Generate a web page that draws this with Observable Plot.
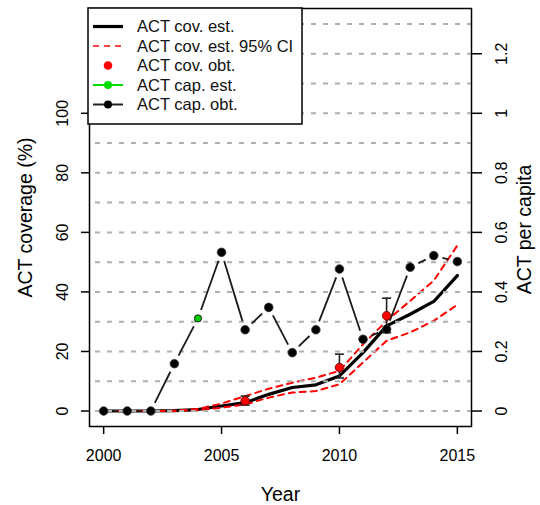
<!DOCTYPE html>
<html><head><meta charset="utf-8">
<script src="https://cdn.jsdelivr.net/npm/d3@7"></script>
<script src="https://cdn.jsdelivr.net/npm/@observablehq/plot@0.6"></script>
<style>
body{margin:0;background:#fff;font-family:"Liberation Sans",Arial,sans-serif}
</style>
</head><body><div id="chart"></div>
<script>
// ---- data ----
const years   = [2000,2001,2002,2003,2004,2005,2006,2007,2008,2009,2010,2011,2012,2013,2014,2015];
const covEst  = [0,0,0,0.1,0.5,1.7,2.8,5.6,7.9,8.8,11.8,19.6,28.6,32.5,36.8,45.5];
const covLo   = [0,0,0,0,0.3,1.1,2.2,4.5,6.2,6.7,9.0,16.3,23.6,26.4,30.3,35.7];
const covHi   = [0,0,0,0.1,0.7,2.5,5.0,7.5,9.5,11.2,13.5,22.4,30.3,37.0,43.8,55.6];
const obtYears = [2006,2010,2012];
const obtVal   = [3.4,14.6,32.0];
const obtLo    = [2.0,11.1,26.3];
const obtHi    = [5.0,19.1,37.9];
const capObtYears = [2000,2001,2002,2003,2005,2006,2007,2008,2009,2010,2011,2012,2013,2014,2015];
const capObtVal   = [0,0,0,0.159,0.533,0.273,0.348,0.196,0.273,0.477,0.241,0.275,0.483,0.522,0.502];
const capEstYears = [2004];
const capEstVal   = [0.311];
const leftTicks  = [0,20,40,60,80,100];
const rightTicks = [0,0.2,0.4,0.6,0.8,1,1.2];
const gridVals   = [0,0.1,0.2,0.3,0.4,0.5,0.6,0.7,0.8,0.9,1.0,1.1,1.2,1.3];
const xTicks     = [2000,2005,2010,2015];
const legendItems = ["ACT cov. est.","ACT cov. est. 95% CI","ACT cov. obt.","ACT cap. est.","ACT cap. obt."];

// ---- layout ----
const W = 540, H = 505, mL = 89, mR = 69, mT = 8, mB = 79;
const xDom = [1999.4, 2015.6], yDom = [-5.2, 135.2];
const xs = Plot.scale({x: {type: "linear", domain: xDom, range: [mL, W - mR]}});
const ys = Plot.scale({y: {type: "linear", domain: yDom, range: [H - mB, mT]}});

const covRows = years.map((y, i) => ({year: y, est: covEst[i], lo: covLo[i], hi: covHi[i]}));
const obtRows = obtYears.map((y, i) => ({year: y, v: obtVal[i], lo: obtLo[i], hi: obtHi[i]}));
const capObt = capObtYears.map((y, i) => ({year: y, v: capObtVal[i] * 100}));
const capEst = capEstYears.map((y, i) => ({year: y, v: capEstVal[i] * 100}));
const capAll = [...capObt, ...capEst].sort((a, b) => a.year - b.year);

// type="b" style segments: gaps around points
const gap = 9;
const segs = [];
for (let i = 0; i < capAll.length - 1; i++) {
  const a = capAll[i], b = capAll[i + 1];
  const ax = xs.apply(a.year), ay = ys.apply(a.v), bx = xs.apply(b.year), by = ys.apply(b.v);
  const L = Math.hypot(bx - ax, by - ay);
  if (L <= 2 * gap) continue;
  const ux = (bx - ax) / L, uy = (by - ay) / L;
  segs.push({
    x1: xs.invert(ax + ux * gap), y1: ys.invert(ay + uy * gap),
    x2: xs.invert(bx - ux * gap), y2: ys.invert(by - uy * gap)
  });
}
const capHalf = 4.5;
const caps = [];
obtRows.forEach(d => {
  const px = xs.apply(d.year);
  caps.push({x1: xs.invert(px - capHalf), x2: xs.invert(px + capHalf), y: d.lo});
  caps.push({x1: xs.invert(px - capHalf), x2: xs.invert(px + capHalf), y: d.hi});
});

const font = "Liberation Sans, Arial, sans-serif";
const chart = Plot.plot({
  width: W, height: H,
  marginLeft: mL, marginRight: mR, marginTop: mT, marginBottom: mB,
  style: {fontFamily: font, background: "#fff", overflow: "visible"},
  x: {domain: xDom, axis: null},
  y: {domain: yDom, axis: null},
  marks: [
    Plot.line(covRows, {x: "year", y: "est", stroke: "black", strokeWidth: 3.2}),
    Plot.line(covRows, {x: "year", y: "lo", stroke: "#ff0000", strokeWidth: 2, strokeDasharray: "6,5"}),
    Plot.line(covRows, {x: "year", y: "hi", stroke: "#ff0000", strokeWidth: 2, strokeDasharray: "6,5"}),
    Plot.ruleY(gridVals, {y: d => d * 100, stroke: "#b0b0b0", strokeWidth: 2, strokeDasharray: "5,7", strokeDashoffset: -6}),
    Plot.link(segs, {x1: "x1", y1: "y1", x2: "x2", y2: "y2", stroke: "#1a1a1a", strokeWidth: 1.8}),
    Plot.ruleX(obtRows, {x: "year", y1: "lo", y2: "hi", stroke: "#222", strokeWidth: 1.6}),
    Plot.link(caps, {x1: "x1", x2: "x2", y1: "y", y2: "y", stroke: "#222", strokeWidth: 1.6}),
    Plot.dot(capObt, {x: "year", y: "v", r: 4.3, fill: "black", stroke: "#333", strokeWidth: 0.8}),
    Plot.dot(capEst, {x: "year", y: "v", r: 3.6, fill: "#00cc00", stroke: "#222", strokeWidth: 1}),
    Plot.dot(obtRows, {x: "year", y: "v", r: 4.3, fill: "#ff0000", stroke: "#660000", strokeWidth: 0.8}),
    Plot.frame({stroke: "black", strokeWidth: 1.5}),
    // axes
    Plot.axisX({ticks: xTicks, tickSize: 8, tickPadding: 15, tickFormat: d => String(d), fontSize: 16, label: null, stroke: "black", strokeWidth: 1.5}),
    Plot.axisY({anchor: "left", ticks: leftTicks, tickSize: 8, tickFormat: () => "", label: null, strokeWidth: 1.5}),
    Plot.axisY({anchor: "right", ticks: rightTicks.map(d => d * 100), tickSize: 10, tickFormat: () => "", label: null, strokeWidth: 1.5}),
    Plot.text(leftTicks, {y: d => d, frameAnchor: "left", dx: -27, rotate: -90, text: d => String(d), fontSize: 16, textAnchor: "middle", lineAnchor: "middle", fill: "black"}),
    Plot.text(rightTicks, {y: d => d * 100, frameAnchor: "right", dx: 30, rotate: -90, text: d => String(d), fontSize: 16, textAnchor: "middle", lineAnchor: "middle", fill: "black"}),
    Plot.text(["ACT coverage (%)"], {frameAnchor: "left", dx: -64, rotate: -90, text: d => d, fontSize: 19.5, textAnchor: "middle", lineAnchor: "middle", fill: "black"}),
    Plot.text(["ACT per capita"], {frameAnchor: "right", dx: 53, dy: 12, rotate: -90, text: d => d, fontSize: 19.5, textAnchor: "middle", lineAnchor: "middle", fill: "black"}),
    Plot.text(["Year"], {frameAnchor: "bottom", dy: 68, text: d => d, fontSize: 19.5, textAnchor: "middle", lineAnchor: "middle", fill: "black"})
  ]
});
document.getElementById("chart").appendChild(chart);

// ---- legend (inside the svg, top-left) ----
const svg = d3.select(chart);
const lg = svg.append("g").attr("font-family", font).attr("font-size", 16.5).attr("text-anchor", "start");
lg.append("rect").attr("x", 88).attr("y", 8).attr("width", 214).attr("height", 116)
  .attr("fill", "white").attr("stroke", "black").attr("stroke-width", 1.5);
const ly = [26.5, 46, 65.5, 85, 104.5];
const lx1 = 93, lx2 = 123, lxm = 108, tx = 137;
lg.append("line").attr("x1", lx1).attr("x2", lx2).attr("y1", ly[0]).attr("y2", ly[0]).attr("stroke", "black").attr("stroke-width", 3.2);
lg.append("line").attr("x1", lx1).attr("x2", lx2).attr("y1", ly[1]).attr("y2", ly[1]).attr("stroke", "#ff4444").attr("stroke-width", 2).attr("stroke-dasharray", "6,5");
lg.append("circle").attr("cx", lxm).attr("cy", ly[2]).attr("r", 4.3).attr("fill", "#ff0000");
lg.append("line").attr("x1", lx1).attr("x2", lx2).attr("y1", ly[3]).attr("y2", ly[3]).attr("stroke", "#00dd00").attr("stroke-width", 2);
lg.append("circle").attr("cx", lxm).attr("cy", ly[3]).attr("r", 4).attr("fill", "#00dd00");
lg.append("line").attr("x1", lx1).attr("x2", lx2).attr("y1", ly[4]).attr("y2", ly[4]).attr("stroke", "#222").attr("stroke-width", 2);
lg.append("circle").attr("cx", lxm).attr("cy", ly[4]).attr("r", 4).attr("fill", "black");
legendItems.forEach((t, i) => {
  lg.append("text").attr("x", tx).attr("y", ly[i]).attr("dy", "0.35em").attr("fill", "#111").attr("text-anchor", "start").text(t);
});
</script>
</body></html>
